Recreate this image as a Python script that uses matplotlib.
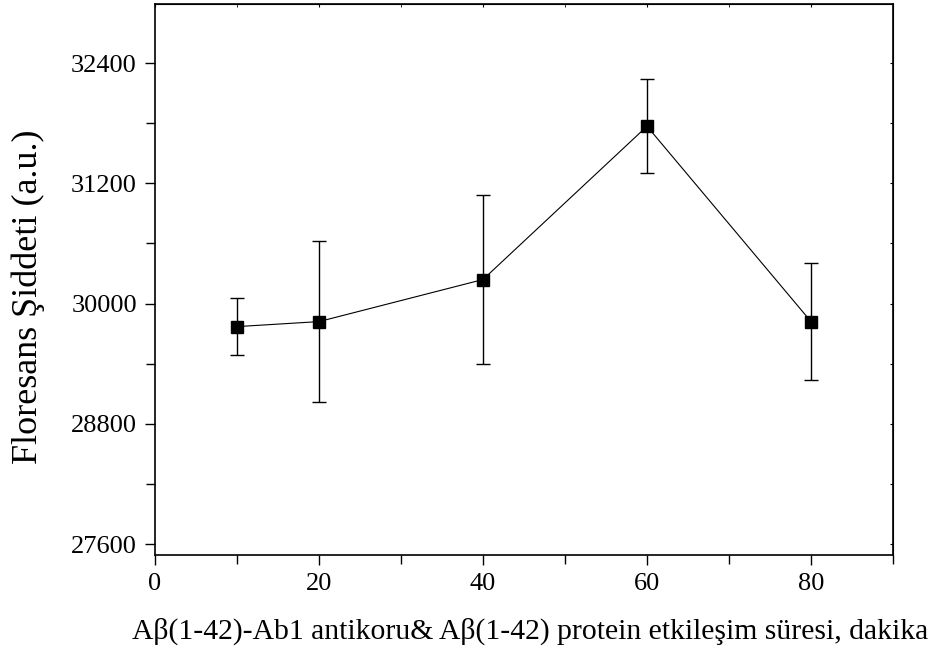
import matplotlib
matplotlib.use("Agg")
import matplotlib.pyplot as plt
from matplotlib.ticker import MultipleLocator

# time (min) vs fluorescence intensity
times = [10, 20, 40, 60, 80]
intensity = [29770, 29820, 30240, 31770, 29820]
errors = [285, 800, 845, 470, 580]

plt.rcParams["font.family"] = ["Liberation Serif", "DejaVu Serif"]

fig = plt.figure(figsize=(9.46, 6.49), dpi=100)
ax = fig.add_axes([0.1638, 0.1448, 0.944 - 0.1638, 0.9938 - 0.1448])

ax.errorbar(times, intensity, yerr=errors, color="black", lw=0.8,
            marker="s", ms=8.5, mfc="black", mec="black",
            ecolor="black", elinewidth=1.0, capsize=5, capthick=1.0)

ax.set_xlim(0, 90)
ax.set_ylim(27490, 32990)
ax.xaxis.set_major_locator(MultipleLocator(20))
ax.xaxis.set_minor_locator(MultipleLocator(10))
ax.yaxis.set_minor_locator(MultipleLocator(600))
ax.set_yticks([27600, 28800, 30000, 31200, 32400])

ax.tick_params(which="both", direction="out", labelsize=19, width=1.0)
ax.tick_params(which="major", length=7)
ax.tick_params(which="minor", length=6.5)
ax.tick_params(axis="y", which="major", pad=6)
ax.tick_params(axis="x", which="major", pad=6)
for s in ax.spines.values():
    s.set_linewidth(1.2)

# mirror ticks on top and right, pointing in
sec_x = ax.secondary_xaxis("top")
sec_x.xaxis.set_major_locator(MultipleLocator(20))
sec_x.xaxis.set_minor_locator(MultipleLocator(10))
sec_x.tick_params(which="both", direction="in", length=2.5, labeltop=False)
sec_y = ax.secondary_yaxis("right")
sec_y.yaxis.set_major_locator(MultipleLocator(600))
sec_y.tick_params(which="both", direction="in", length=2.5, labelright=False)

ax.set_xlabel("Aβ(1-42)-Ab1 antikoru& Aβ(1-42) protein etkileşim süresi, dakika",
              fontsize=21.3)
ax.set_ylabel("Floresans Şiddeti (a.u.)", fontsize=26)
ax.xaxis.set_label_coords(0.508, -0.138)
ax.xaxis.label.set_va("center")
ax.yaxis.set_label_coords(-0.172, 0.468)
ax.yaxis.label.set_va("center")

fig.savefig("out.png", dpi=100)
